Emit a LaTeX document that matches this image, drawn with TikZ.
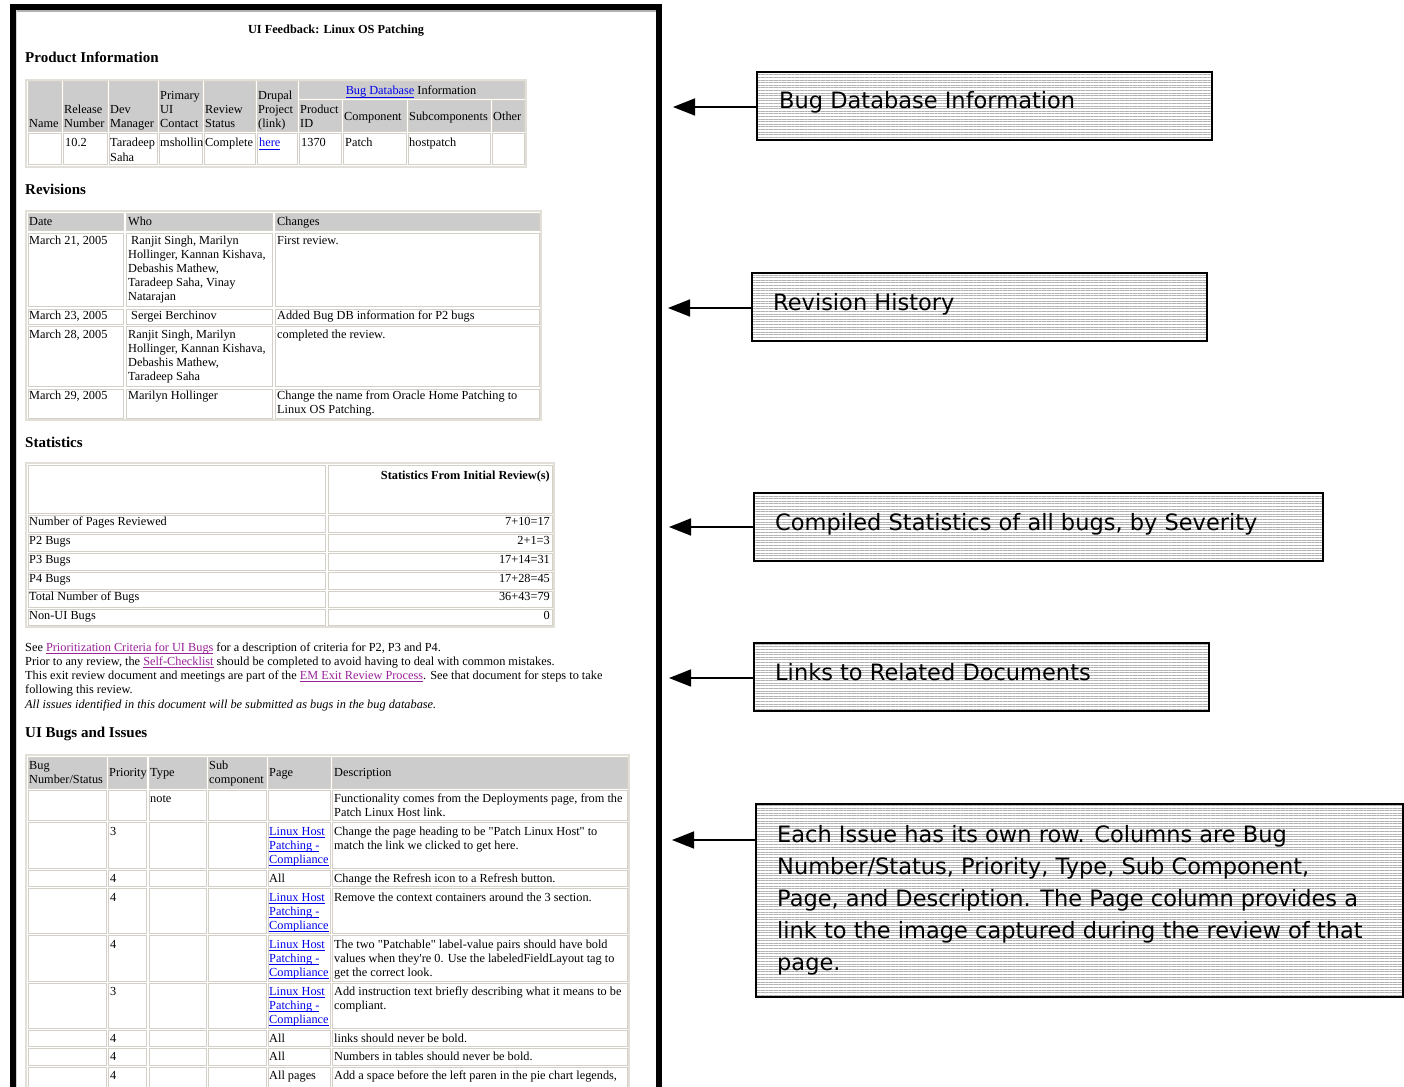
\documentclass[tikz,border=0pt]{standalone}
\usepackage{fontspec}
\setmainfont{Liberation Serif}
\newfontfamily\calfont{DejaVu Sans}
\usetikzlibrary{arrows.meta,patterns.meta}
\definecolor{hdr}{RGB}{204,204,204}
\definecolor{cellc}{RGB}{212,208,200}
\definecolor{tabc}{RGB}{226,223,216}
\definecolor{lblue}{RGB}{0,0,238}
\definecolor{lpurp}{RGB}{153,34,153}
\newcommand\docfont{\fontsize{12.3}{14}\selectfont}
\newcommand\headfont{\fontsize{15}{17}\selectfont\bfseries}
\newsavebox\ulbox
\newcommand\myul[1]{\sbox\ulbox{#1}\rlap{\vrule height -1.6pt depth 2.5pt width \wd\ulbox}\usebox\ulbox}
\newcommand\lb[1]{\textcolor{lblue}{\myul{#1}}}
\newcommand\lp[1]{\textcolor{lpurp}{\myul{#1}}}
\newcommand\dq{\textquotedbl}
\newcounter{tn}
\newcommand\tx[3]{\stepcounter{tn}\node[txt] (t\arabic{tn}) at (#1,#2) {#3};}
\newcommand\txr[3]{\stepcounter{tn}\node[txt,anchor=base east] (t\arabic{tn}) at (#1,#2) {#3};}
\newcommand\hd[3]{\stepcounter{tn}\node[txt,font=\headfont] (t\arabic{tn}) at (#1,#2) {#3};}
\newcommand\cb[4]{\draw[cellb] (#1,#2) rectangle (#3,#4);}
\newcommand\hb[4]{\draw[cellb,fill=hdr] (#1,#2) rectangle (#3,#4);}
\tikzset{
  txt/.style={anchor=base west,inner sep=0pt,font=\docfont},
  cellb/.style={draw=cellc,line width=1pt},
  tabb/.style={draw=tabc,line width=1.5pt},
  callbox/.style={draw=black,line width=1.5pt,anchor=north west,inner sep=0pt,
    pattern={Lines[angle=0,distance=2.6pt,line width=0.4pt]},pattern color=gray!60},
  caltxt/.style={anchor=base west,inner sep=0pt,font=\calfont\fontsize{22.5}{32}\selectfont},
  arr/.style={line width=1.7pt,-{Triangle[length=22pt,width=17pt]}}
}
\begin{document}
\begin{tikzpicture}[x=1pt,y=-1pt]
\useasboundingbox (0,0) rectangle (1404,1086);
\fill[white] (0,0) rectangle (1404,1086);
% window frame
\fill[black] (10,4) rectangle (662,1090);
\fill[white] (16,10) rectangle (656,1090);
\fill[gray!60] (16,10) rectangle (656,12);
\fill[gray!35] (16,10) rectangle (17,1090);

% title
\stepcounter{tn}\node[txt,anchor=base,font=\docfont\bfseries] (title) at (336,34) {UI Feedback: Linux OS Patching};
\hd{25}{63}{Product Information}

% product table
\draw[tabb] (26,80) rectangle (526,167);
\hb{28}{82}{61}{132} \hb{63}{82}{107}{132} \hb{109}{82}{157}{132}
\hb{159}{82}{202}{132} \hb{204}{82}{255}{132} \hb{257}{82}{297}{132}
\hb{299}{82}{524}{99}
\hb{299}{101}{341}{132} \hb{343}{101}{406}{132} \hb{408}{101}{490}{132} \hb{492}{101}{524}{132}
\cb{28}{134}{61}{165} \cb{63}{134}{107}{165} \cb{109}{134}{157}{165}
\cb{159}{134}{202}{165} \cb{204}{134}{255}{165} \cb{257}{134}{297}{165}
\cb{299}{134}{341}{165} \cb{343}{134}{406}{165} \cb{408}{134}{490}{165} \cb{492}{134}{524}{165}
\tx{29}{128}{Name}
\tx{64}{114}{Release}\tx{64}{128}{Number}
\tx{110}{114}{Dev}\tx{110}{128}{Manager}
\tx{160}{100}{Primary}\tx{160}{114}{UI}\tx{160}{128}{Contact}
\tx{205}{114}{Review}\tx{205}{128}{Status}
\tx{258}{100}{Drupal}\tx{258}{114}{Project}\tx{258}{128}{(link)}
\stepcounter{tn}\node[txt,anchor=base] (bugdb) at (411,95) {\lb{Bug Database} Information};
\tx{300}{114}{Product}\tx{300}{128}{ID}
\tx{344}{121}{Component}\tx{409}{121}{Subcomponents}\tx{493}{121}{Other}
\tx{65}{147}{10.2}
\tx{110}{147}{Taradeep}\tx{110}{161}{Saha}
\tx{160}{147}{mshollin}
\tx{205}{147}{Complete}
\tx{259}{147}{\lb{here}}
\tx{301}{147}{1370}
\tx{345}{147}{Patch}
\tx{409}{147}{hostpatch}

% revisions
\hd{25}{194}{Revisions}
\draw[tabb] (26,211) rectangle (541,420);
\hb{28}{213}{123}{230} \hb{126}{213}{272}{230} \hb{275}{213}{539}{230}
\cb{28}{233}{123}{306} \cb{126}{233}{272}{306} \cb{275}{233}{539}{306}
\cb{28}{309}{123}{324} \cb{126}{309}{272}{324} \cb{275}{309}{539}{324}
\cb{28}{326}{123}{386} \cb{126}{326}{272}{386} \cb{275}{326}{539}{386}
\cb{28}{389}{123}{418} \cb{126}{389}{272}{418} \cb{275}{389}{539}{418}
\tx{29}{225}{Date}\tx{128}{225}{Who}\tx{277}{225}{Changes}
\tx{29}{244}{March 21, 2005}
\tx{131}{244}{Ranjit Singh, Marilyn}
\tx{128}{258}{Hollinger, Kannan Kishava,}
\tx{128}{272}{Debashis Mathew,}
\tx{128}{286}{Taradeep Saha, Vinay}
\tx{128}{300}{Natarajan}
\tx{277}{244}{First review.}
\tx{29}{319}{March 23, 2005}
\tx{131}{319}{Sergei Berchinov}
\tx{277}{319}{Added Bug DB information for P2 bugs}
\tx{29}{338}{March 28, 2005}
\tx{128}{338}{Ranjit Singh, Marilyn}
\tx{128}{352}{Hollinger, Kannan Kishava,}
\tx{128}{366}{Debashis Mathew,}
\tx{128}{380}{Taradeep Saha}
\tx{277}{338}{completed the review.}
\tx{29}{399}{March 29, 2005}
\tx{128}{399}{Marilyn Hollinger}
\tx{277}{399}{Change the name from Oracle Home Patching to}
\tx{277}{413}{Linux OS Patching.}

% statistics
\hd{25}{447}{Statistics}
\draw[tabb] (26,463) rectangle (554,627);
\cb{28}{465}{325}{513} \cb{328}{465}{552}{513}
\foreach \t/\b in {515/532,534/551,553/570,572/589,591/607,609/625}{
  \draw[cellb] (28,\t) rectangle (325,\b);
  \draw[cellb] (328,\t) rectangle (552,\b);
}
\stepcounter{tn}\node[txt,anchor=base east,font=\docfont\bfseries] (sthead) at (550,479) {Statistics From Initial Review(s)};
\tx{29}{525}{Number of Pages Reviewed}\txr{550}{525}{7+10=17}
\tx{29}{544}{P2 Bugs}\txr{550}{544}{2+1=3}
\tx{29}{563}{P3 Bugs}\txr{550}{563}{17+14=31}
\tx{29}{582}{P4 Bugs}\txr{550}{582}{17+28=45}
\tx{29}{600}{Total Number of Bugs}\txr{550}{600}{36+43=79}
\tx{29}{619}{Non-UI Bugs}\txr{550}{619}{0}

% links
\tx{25}{651}{See \lp{Prioritization Criteria for UI Bugs} for a description of criteria for P2, P3 and P4.}
\tx{25}{665}{Prior to any review, the \lp{Self-Checklist} should be completed to avoid having to deal with common mistakes.}
\tx{25}{679}{This exit review document and meetings are part of the \lp{EM Exit Review Process}. See that document for steps to take}
\tx{25}{693}{following this review.}
\tx{25}{708}{\itshape All issues identified in this document will be submitted as bugs in the bug database.}

% UI bugs
\hd{25}{737}{UI Bugs and Issues}
\draw[tabb] (26,755) rectangle (629,1095);
\hb{28}{757}{106}{788} \hb{108}{757}{146}{788} \hb{149}{757}{206}{788}
\hb{208}{757}{266}{788} \hb{268}{757}{330}{788} \hb{332}{757}{627}{788}
\foreach \t/\b in {790/820,822/868,870/886,888/933,935/981,983/1028,1030/1046,1048/1065,1067/1095}{
  \draw[cellb] (28,\t) rectangle (106,\b);
  \draw[cellb] (108,\t) rectangle (146,\b);
  \draw[cellb] (149,\t) rectangle (206,\b);
  \draw[cellb] (208,\t) rectangle (266,\b);
  \draw[cellb] (268,\t) rectangle (330,\b);
  \draw[cellb] (332,\t) rectangle (627,\b);
}
\tx{29}{769}{Bug}\tx{29}{783}{Number/Status}
\tx{109}{776}{Priority}\tx{150}{776}{Type}
\tx{209}{769}{Sub}\tx{209}{783}{component}
\tx{269}{776}{Page}\tx{334}{776}{Description}
% row1
\tx{150}{802}{note}
\tx{334}{802}{Functionality comes from the Deployments page, from the}
\tx{334}{816}{Patch Linux Host link.}
% row2
\tx{110}{835}{3}
\tx{269}{835}{\lb{Linux Host}}\tx{269}{849}{\lb{Patching -}}\tx{269}{863}{\lb{Compliance}}
\tx{334}{835}{Change the page heading to be \dq Patch Linux Host\dq{} to}
\tx{334}{849}{match the link we clicked to get here.}
% row3
\tx{110}{882}{4}\tx{269}{882}{All}
\tx{334}{882}{Change the Refresh icon to a Refresh button.}
% row4
\tx{110}{901}{4}
\tx{269}{901}{\lb{Linux Host}}\tx{269}{915}{\lb{Patching -}}\tx{269}{929}{\lb{Compliance}}
\tx{334}{901}{Remove the context containers around the 3 section.}
% row5
\tx{110}{948}{4}
\tx{269}{948}{\lb{Linux Host}}\tx{269}{962}{\lb{Patching -}}\tx{269}{976}{\lb{Compliance}}
\tx{334}{948}{The two \dq Patchable\dq{} label-value pairs should have bold}
\tx{334}{962}{values when they\textquotesingle re 0. Use the labeledFieldLayout tag to}
\tx{334}{976}{get the correct look.}
% row6
\tx{110}{995}{3}
\tx{269}{995}{\lb{Linux Host}}\tx{269}{1009}{\lb{Patching -}}\tx{269}{1023}{\lb{Compliance}}
\tx{334}{995}{Add instruction text briefly describing what it means to be}
\tx{334}{1009}{compliant.}
% row7-9
\tx{110}{1042}{4}\tx{269}{1042}{All}\tx{334}{1042}{links should never be bold.}
\tx{110}{1060}{4}\tx{269}{1060}{All}\tx{334}{1060}{Numbers in tables should never be bold.}
\tx{110}{1079}{4}\tx{269}{1079}{All pages}\tx{334}{1079}{Add a space before the left paren in the pie chart legends,}

% callouts
\node[callbox,minimum width=455pt,minimum height=68pt] (cb1) at (757,72) {};
\node[callbox,minimum width=455pt,minimum height=68pt] (cb2) at (751,272) {};
\node[callbox,minimum width=569pt,minimum height=68pt] (cb3) at (753,492) {};
\node[callbox,minimum width=455pt,minimum height=68pt] (cb4) at (753,642) {};
\node[callbox,minimum width=647pt,minimum height=193pt] (cb5) at (755,803) {};
\node[caltxt] (c1) at (779,109) {Bug Database Information};
\node[caltxt] (c2) at (773,310) {Revision History};
\node[caltxt] (c3) at (775,530) {Compiled Statistics of all bugs, by Severity};
\node[caltxt] (c4) at (775,680) {Links to Related Documents};
\node[caltxt] (c5a) at (777,842) {Each Issue has its own row. Columns are Bug};
\node[caltxt] (c5b) at (777,874) {Number/Status, Priority, Type, Sub Component,};
\node[caltxt] (c5c) at (777,906) {Page, and Description. The Page column provides a};
\node[caltxt] (c5d) at (777,938) {link to the image captured during the review of that};
\node[caltxt] (c5e) at (777,970) {page.};

\coordinate (p1) at (673,107);
\coordinate (p2) at (668,308);
\coordinate (p3) at (669,527);
\coordinate (p4) at (669,678);
\coordinate (p5) at (672,840);
\draw[arr] (cb1.west |- p1) -- (p1);
\draw[arr] (cb2.west |- p2) -- (p2);
\draw[arr] (cb3.west |- p3) -- (p3);
\draw[arr] (cb4.west |- p4) -- (p4);
\draw[arr] (cb5.west |- p5) -- (p5);
\end{tikzpicture}
\end{document}
